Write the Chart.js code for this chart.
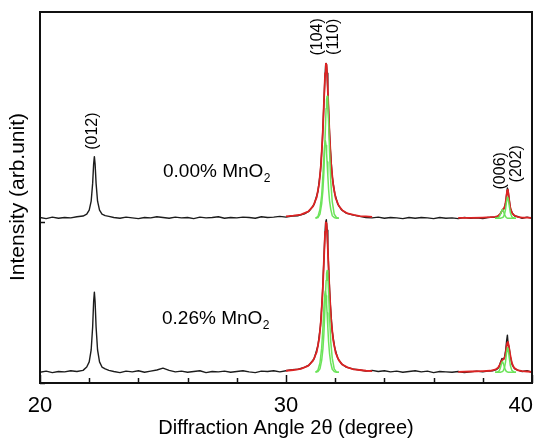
<!DOCTYPE html>
<html>
<head>
<meta charset="utf-8">
<script src="https://cdn.jsdelivr.net/npm/chart.js@4.4.0/dist/chart.umd.min.js"></script>
<style>
    html, body { margin: 0; padding: 0; background: #fff; }
    #wrap { width: 542px; height: 439px; }
</style>
</head>
<body>
<div id="wrap"><canvas id="xrdChart" width="542" height="439"></canvas></div>
<script>
// Measured patterns (2theta in degree, intensity in arb. units)
const scanAngle = [
    20.0, 20.25, 20.5, 20.75, 21.0, 21.25, 21.5, 21.75,
    21.9, 22.0, 22.08, 22.14, 22.18, 22.21, 22.24, 22.28, 22.34, 22.42, 22.52, 22.65, 22.8,
    23.0, 23.25, 23.5, 23.75, 24.0, 24.25, 24.5, 24.75, 25.0, 25.25, 25.5, 25.75, 26.0, 26.25, 26.5, 26.75,
    27.0, 27.25, 27.5, 27.75, 28.0, 28.25, 28.5, 28.75, 29.0, 29.25, 29.5, 29.75, 30.0, 30.25, 30.5, 30.75,
    30.95, 31.15, 31.3, 31.4, 31.48, 31.54, 31.58, 31.61, 31.64, 31.67, 31.7, 31.74, 31.8, 31.88, 31.98, 32.1, 32.25, 32.45, 32.7,
    33.0, 33.25, 33.5, 33.75, 34.0, 34.25, 34.5, 34.75, 35.0, 35.25, 35.5, 35.75, 36.0, 36.25, 36.5, 36.75,
    37.0, 37.25, 37.5, 37.75, 38.0, 38.2,
    38.4, 38.55, 38.65, 38.72, 38.78, 38.83, 38.88, 38.93, 38.97, 39.0, 39.03, 39.07, 39.12, 39.2, 39.3, 39.45, 39.6, 39.8, 40.0
];
const scanPure = [
    44.6, 44.3, 44.7, 44.4, 44.6, 44.5, 44.8, 45.0,
    45.5, 46.6, 49.0, 53.8, 59.0, 61.0, 59.0, 53.8, 49.0, 46.6, 45.5, 45.1, 44.9,
    44.6, 44.4, 44.7, 44.5, 44.3, 44.6, 44.5, 44.8, 44.6, 44.4, 44.7, 44.5, 44.6, 44.3, 44.7, 44.5,
    44.6, 44.8, 44.4, 44.6, 44.5, 44.7, 44.6, 44.4, 44.8, 44.6, 44.7, 44.9, 44.7, 45.0, 45.1, 45.6,
    46.4, 48.2, 51.7, 57.0, 65.4, 75.2, 82.1, 85.6, 86.1, 83.5, 78.8, 71.7, 63.2, 55.6, 51.1, 48.3, 46.7, 45.8, 45.3,
    44.9, 44.6, 44.5, 44.7, 44.4, 44.6, 44.5, 44.3, 44.6, 44.4, 44.6, 44.5, 44.3, 44.6, 44.4, 44.5,
    44.3, 44.6, 44.4, 44.5, 44.3, 44.6,
    44.7, 44.6, 45.2, 45.6, 46.5, 46.7, 47.3, 48.6, 51.0, 52.6, 51.8, 49.6, 47.0, 45.8, 45.0, 44.8, 44.4, 44.7, 44.4
];
const scanDoped = [
    2.9, 3.2, 2.8, 3.1, 3.0, 3.3, 3.1, 3.4,
    4.3, 5.7, 8.9, 15.1, 21.9, 24.5, 21.9, 15.1, 8.9, 5.7, 4.3, 3.8, 3.4,
    3.1, 2.8, 3.2, 3.0, 3.3, 2.9, 3.2, 3.5, 4.0, 3.4, 3.0, 3.2, 2.9, 3.1, 3.3, 2.8,
    3.1, 3.0, 3.2, 2.9, 3.1, 3.3, 3.0, 2.8, 3.2, 3.1, 3.3, 3.0, 3.3, 3.6, 3.7, 4.2,
    4.9, 6.6, 10.1, 15.3, 23.5, 33.1, 39.9, 43.2, 44.0, 41.2, 36.6, 29.7, 21.3, 13.9, 9.5, 6.7, 5.2, 4.3, 3.8,
    3.5, 3.2, 3.4, 3.1, 3.3, 3.0, 3.2, 2.9, 3.1, 3.3, 3.0, 3.2, 2.8, 3.1, 3.0, 2.9,
    3.1, 2.8, 3.0, 3.2, 3.0, 3.2,
    3.3, 3.6, 4.2, 5.6, 6.6, 6.4, 6.8, 8.8, 11.5, 12.9, 10.5, 9.6, 7.0, 4.8, 3.8, 3.4, 3.1, 3.3, 2.9
];

// Fitted envelopes (red)
const fitAngle104 = [30.0, 30.3, 30.6, 30.9, 31.1, 31.25, 31.35, 31.43, 31.5, 31.55, 31.59, 31.62, 31.65,
    31.68, 31.72, 31.77, 31.84, 31.92, 32.02, 32.15, 32.3, 32.5, 32.75, 33.0, 33.25, 33.5];
const fitPure104 = [44.9, 45.1, 45.4, 46.2, 47.6, 50.1, 53.8, 59.5, 68.3, 77.1, 83.5, 86.1, 85.8,
    82.1, 75.3, 66.9, 58.5, 53.3, 49.8, 47.7, 46.5, 45.7, 45.3, 45.0, 44.9, 44.8];
const fitDoped104 = [3.3, 3.5, 3.8, 4.6, 6.0, 8.4, 12.0, 17.5, 26.1, 34.6, 40.8, 43.3, 43.0,
    39.4, 32.8, 24.7, 16.6, 11.5, 8.1, 6.1, 4.9, 4.2, 3.7, 3.5, 3.3, 3.2];
const fitAngle006 = [37.0, 37.5, 38.0, 38.3, 38.5, 38.62, 38.7, 38.76, 38.81, 38.86, 38.91, 38.95, 38.99,
    39.02, 39.06, 39.11, 39.18, 39.27, 39.4, 39.6, 39.8, 40.0];
const fitPure006 = [44.5, 44.5, 44.6, 44.7, 44.8, 45.0, 45.5, 46.2, 46.8, 47.0, 48.0, 49.7, 51.9,
    52.1, 50.0, 47.5, 45.9, 45.2, 44.8, 44.6, 44.6, 44.5];
const fitDoped006 = [3.0, 3.1, 3.2, 3.3, 3.6, 4.1, 5.0, 5.9, 6.3, 6.5, 7.3, 9.0, 10.8,
    11.1, 9.9, 7.8, 5.4, 4.1, 3.5, 3.2, 3.1, 3.0];

// Deconvoluted components (green)
const compAngle104 = [31.2, 31.3, 31.38, 31.45, 31.5, 31.54, 31.57, 31.6, 31.63, 31.65, 31.67, 31.7,
    31.73, 31.77, 31.82, 31.88, 31.96, 32.05, 32.15];
const compPure110 = [44.4, 44.6, 45.5, 48.3, 51.9, 56.8, 62.5, 68.4, 74.0, 76.3, 77.3, 75.3,
    70.4, 62.5, 54.2, 48.9, 45.5, 44.6, 44.4];
const compPure104 = [44.4, 44.9, 46.8, 50.6, 55.9, 60.9, 64.0, 65.3, 64.0, 61.9, 59.6, 55.9,
    52.3, 49.1, 46.8, 45.1, 44.6, 44.4, 44.4];
const compDoped110 = [2.9, 3.1, 3.8, 6.1, 9.1, 13.2, 17.9, 22.9, 27.6, 29.5, 30.3, 28.7,
    24.5, 17.9, 11.1, 6.7, 3.8, 3.0, 2.9];
const compDoped104 = [2.9, 3.5, 5.4, 9.4, 14.9, 20.2, 23.5, 24.8, 23.5, 21.3, 18.9, 14.9,
    11.2, 7.9, 5.4, 3.7, 3.1, 2.9, 2.9];
const compAngle006 = [38.5, 38.6, 38.67, 38.72, 38.76, 38.8, 38.84, 38.88, 38.92, 38.96, 39.0, 39.03,
    39.07, 39.12, 39.18, 39.26, 39.35];
const compPure006 = [44.4, 44.4, 44.8, 45.5, 46.3, 46.8, 46.3, 45.5, 44.9, 44.6, 44.4, 44.4,
    44.4, 44.4, 44.4, 44.4, 44.4];
const compPure202 = [44.4, 44.4, 44.4, 44.4, 44.5, 44.6, 44.8, 45.4, 46.6, 48.6, 50.1, 49.8,
    48.0, 45.9, 44.8, 44.5, 44.4];
const compDoped006 = [2.9, 3.0, 3.3, 4.2, 5.2, 5.8, 5.2, 4.2, 3.5, 3.1, 3.0, 2.9,
    2.9, 2.9, 2.9, 2.9, 2.9];
const compDoped202 = [2.9, 2.9, 2.9, 2.9, 3.0, 3.1, 3.4, 4.1, 5.5, 7.8, 9.5, 9.2,
    7.1, 4.7, 3.4, 3.0, 2.9];

// Axis ticks
const xTickValues = [20, 22, 24, 26, 28, 30, 32, 34, 36, 38, 40];
const xTickLabels = [20, 30, 40];
const yTickValues = [0, 43.4];

// Text placed in data coordinates
const peakLabels = [
    { text: '(012)', x: 22.15, y: 67.9 },
    { text: '(104)', x: 31.3, y: 93.3 },
    { text: '(110)', x: 31.95, y: 93.3 },
    { text: '(006)', x: 38.72, y: 57.2 },
    { text: '(202)', x: 39.36, y: 59.1 }
];
const sampleLabels = [
    { text: '0.00% MnO', x: 25.0, y: 55.6 },
    { text: '0.26% MnO', x: 24.96, y: 15.8 }
];

const FONT = '"Liberation Sans", Arial, Helvetica, sans-serif';
const BLACK = '#1c1c1c';
const RED = '#dc2323';
const GREEN = '#6ce35a';

function toPoints(xs, ys) {
    return xs.map((x, i) => ({ x: x, y: ys[i] }));
}

function curve(xs, ys, color, width, order) {
    return {
        data: toPoints(xs, ys),
        borderColor: color,
        borderWidth: width,
        showLine: true,
        pointRadius: 0,
        pointHoverRadius: 0,
        tension: 0,
        fill: false,
        order: order,
        borderJoinStyle: 'round'
    };
}

/**
 * Draws the box frame, inward ticks and every text of the figure.
 */
const framePlugin = {
    id: 'framePlugin',
    beforeDraw(chart) {
        const ctx = chart.ctx;
        ctx.save();
        ctx.fillStyle = '#ffffff';
        ctx.fillRect(0, 0, chart.width, chart.height);
        ctx.restore();
    },
    afterDatasetsDraw(chart) {
        const { ctx, chartArea: a, scales } = chart;
        const xs = scales.x, ys = scales.y;
        ctx.save();

        ctx.strokeStyle = '#111';
        ctx.lineWidth = 2;
        ctx.strokeRect(a.left, a.top, a.right - a.left, a.bottom - a.top);

        ctx.lineWidth = 1.5;
        xTickValues.forEach(v => {
            const px = Math.round(xs.getPixelForValue(v)) + 0.5;
            const len = xTickLabels.includes(v) ? 8 : 5;
            ctx.beginPath();
            ctx.moveTo(px, a.bottom);
            ctx.lineTo(px, a.bottom - len);
            ctx.stroke();
        });
        yTickValues.forEach(v => {
            const py = Math.round(ys.getPixelForValue(v)) + 0.5;
            ctx.beginPath();
            ctx.moveTo(a.left, py);
            ctx.lineTo(a.left + 5, py);
            ctx.stroke();
        });

        ctx.fillStyle = '#000';
        ctx.font = '22px ' + FONT;
        ctx.textAlign = 'center';
        ctx.textBaseline = 'alphabetic';
        xTickLabels.forEach(v => {
            const label = String(v);
            const w = ctx.measureText(label).width;
            const px = Math.min(xs.getPixelForValue(v), chart.width - 9 - w / 2);
            ctx.fillText(label, px, a.bottom + 29);
        });

        ctx.font = '20px ' + FONT;
        ctx.fillText('Diffraction Angle 2\u03B8 (degree)', 286, 434);

        ctx.save();
        ctx.font = '21px ' + FONT;
        ctx.translate(24, 197);
        ctx.rotate(-Math.PI / 2);
        ctx.fillText('Intensity (arb.unit)', 0, 0);
        ctx.restore();

        ctx.font = '16px ' + FONT;
        ctx.textBaseline = 'middle';
        peakLabels.forEach(l => {
            ctx.save();
            ctx.translate(xs.getPixelForValue(l.x), ys.getPixelForValue(l.y));
            ctx.rotate(-Math.PI / 2);
            ctx.fillText(l.text, 0, 0);
            ctx.restore();
        });

        ctx.textAlign = 'left';
        ctx.textBaseline = 'alphabetic';
        sampleLabels.forEach(l => {
            const px = xs.getPixelForValue(l.x);
            const py = ys.getPixelForValue(l.y);
            ctx.font = '19px ' + FONT;
            ctx.fillText(l.text, px, py);
            const w = ctx.measureText(l.text).width;
            ctx.font = '12px ' + FONT;
            ctx.fillText('2', px + w + 0.5, py + 5);
        });

        ctx.restore();
    }
};

const datasets = [
    curve(compAngle104, compPure110, GREEN, 1.5, 1),
    curve(compAngle104, compPure104, GREEN, 1.5, 1),
    curve(compAngle104, compDoped110, GREEN, 1.5, 1),
    curve(compAngle104, compDoped104, GREEN, 1.5, 1),
    curve(compAngle006, compPure006, GREEN, 1.5, 1),
    curve(compAngle006, compPure202, GREEN, 1.5, 1),
    curve(compAngle006, compDoped006, GREEN, 1.5, 1),
    curve(compAngle006, compDoped202, GREEN, 1.5, 1),
    curve(fitAngle104, fitPure104, RED, 1.8, 2),
    curve(fitAngle104, fitDoped104, RED, 1.8, 2),
    curve(fitAngle006, fitPure006, RED, 1.8, 2),
    curve(fitAngle006, fitDoped006, RED, 1.8, 2),
    curve(scanAngle, scanPure, BLACK, 1.4, 3),
    curve(scanAngle, scanDoped, BLACK, 1.4, 3)
];

new Chart(document.getElementById('xrdChart'), {
    type: 'scatter',
    data: { datasets: datasets },
    options: {
        responsive: false,
        animation: false,
        devicePixelRatio: 1,
        layout: { padding: { left: 40, right: 10, top: 12, bottom: 56 } },
        scales: {
            x: { type: 'linear', min: 20, max: 40, display: false },
            y: { type: 'linear', min: 0, max: 100, display: false }
        },
        plugins: {
            legend: { display: false },
            tooltip: { enabled: false }
        },
        events: []
    },
    plugins: [framePlugin]
});
</script>
</body>
</html>
